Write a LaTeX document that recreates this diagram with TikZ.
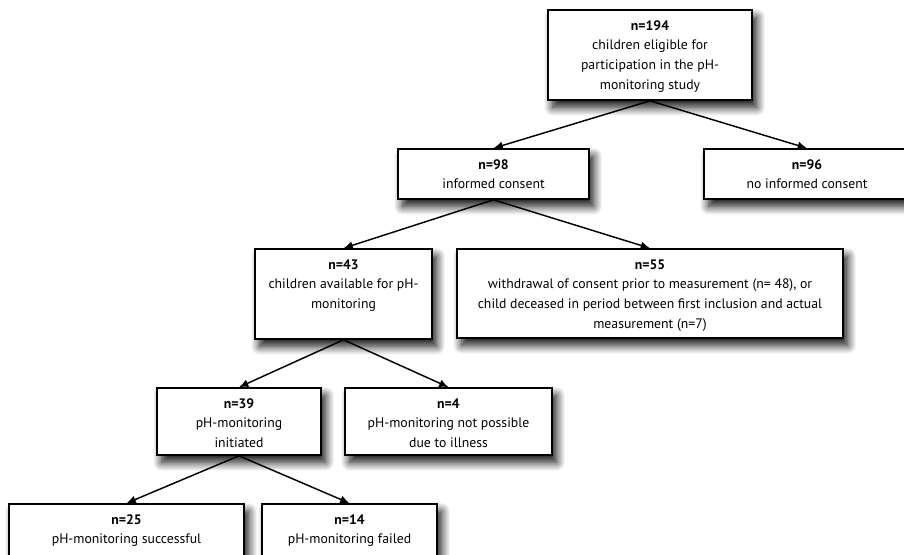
\documentclass[tikz,border=0pt]{standalone}
\usepackage{fontspec}
\setmainfont{PT Sans}
\usetikzlibrary{arrows.meta,shadows.blur}

\newlength\pxu
\setlength\pxu{0.75pt}
% box of width #1 and height #2 (in px), bold count #3, text #4 at the top
\newcommand{\flowtext}[4]{\parbox[c][#2\pxu][t]{#1\pxu}{\centering\rule{0pt}{15pt}\textbf{#3}\\#4}}

\tikzset{
  flowbox/.style={draw, line width=1.2pt, fill=white, inner sep=0pt,
    blur shadow={shadow xshift=3.5pt, shadow yshift=-5.5pt, shadow blur radius=6.5pt,
      shadow blur steps=12, shadow opacity=95}},
  flowarrow/.style={line width=1.1pt, -{Latex[length=7pt,width=6pt]}}
}

\begin{document}
\begin{tikzpicture}[x=0.75pt, y=-0.75pt, font=\fontsize{10.3}{14.8}\selectfont]
  \clip (0,0) rectangle (904,554);
  \node[flowbox] (n194) at (650,55) {\flowtext{204}{90}{n=194}{children eligible for\\participation in the pH-\\monitoring study}};
  \node[flowbox] (n98) at (493.5,174) {\flowtext{191}{50}{n=98}{informed consent}};
  \node[flowbox] (n96) at (807,174) {\flowtext{206}{50}{n=96}{no informed consent}};
  \node[flowbox] (n43) at (343.5,294) {\flowtext{177}{90}{n=43}{children available for pH-\\monitoring}};
  \node[flowbox] (n55) at (650,293.5) {\flowtext{386}{89}{n=55}{withdrawal of consent prior to measurement (n= 48), or\\child deceased in period between first inclusion and actual\\measurement (n=7)}};
  \node[flowbox] (n39) at (239,421.5) {\flowtext{164}{67}{n=39}{pH-monitoring\\initiated}};
  \node[flowbox] (n4) at (448.5,421.5) {\flowtext{207}{67}{n=4}{pH-monitoring not possible\\due to illness}};
  \node[flowbox] (n25) at (126.5,537.5) {\flowtext{235}{67}{n=25}{pH-monitoring successful}};
  \node[flowbox] (n14) at (349.5,537.5) {\flowtext{175}{67}{n=14}{pH-monitoring failed}};
  % parent -> child
  \foreach \a/\b in {n194/n98, n194/n96, n98/n43, n98/n55, n43/n39, n43/n4, n39/n25, n39/n14}
    \draw[flowarrow] (\a.south) -- (\b.north);
\end{tikzpicture}
\end{document}
